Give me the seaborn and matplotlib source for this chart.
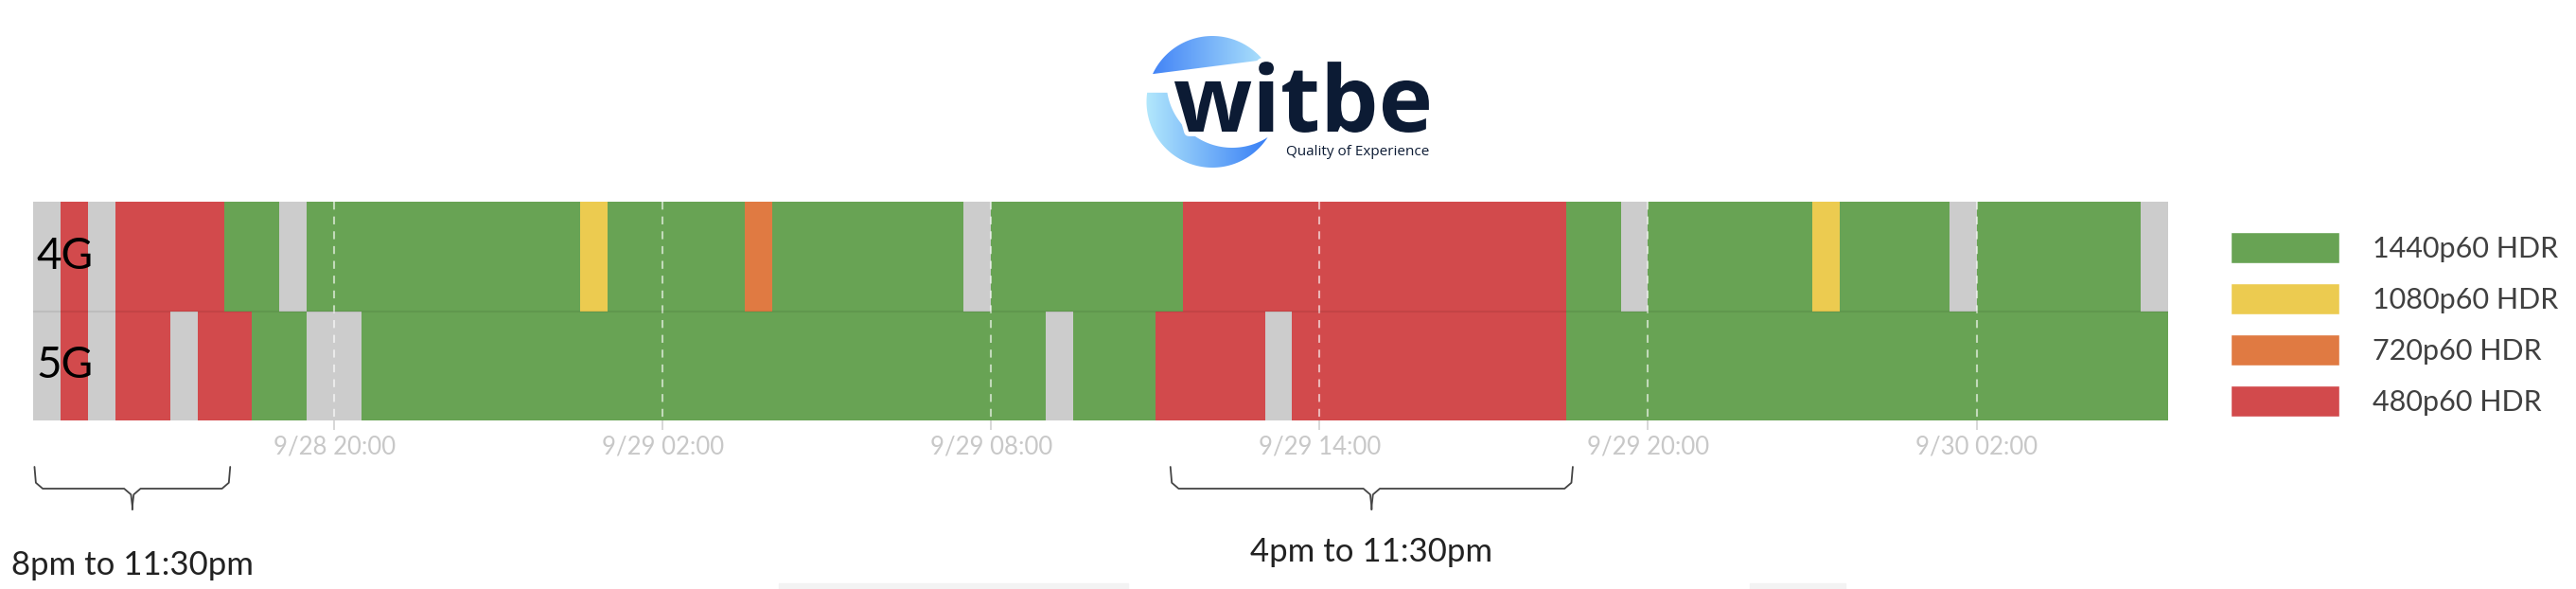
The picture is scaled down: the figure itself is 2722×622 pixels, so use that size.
import numpy as np
import pandas as pd
import seaborn as sns
import matplotlib.pyplot as plt
import matplotlib.colors as mcolors
import matplotlib.patheffects as pe
from matplotlib.patches import Patch, Polygon, Rectangle
from matplotlib.transforms import blended_transform_factory

W, H = 2722, 622

# %% data  (half-hour slots from 9/28 14:30)
start = '2021-09-28 14:30'
n_slots = 78

level_keys = ['1440', '1080', '720', '480', 'nd']
level_labels = ['1440p60 HDR', '1080p60 HDR', '720p60 HDR', '480p60 HDR']
level_colors = ['#68a354', '#eccb50', '#e07a42', '#d24a4c', '#cccccc']

rows = ['4G', '5G']
states_4g = ['nd', '480', 'nd', '480', '1440', 'nd', '1440', '1080', '1440', '720', '1440',
             'nd', '1440', '480', '1440', 'nd', '1440', '1080', '1440', 'nd', '1440', 'nd']
slots_4g = [1, 1, 1, 4, 2, 1, 10, 1, 5, 1, 7, 1, 7, 14, 2, 1, 6, 1, 4, 1, 6, 1]
states_5g = ['nd', '480', 'nd', '480', 'nd', '480', '1440', 'nd', '1440', 'nd', '1440',
             '480', 'nd', '480', '1440']
slots_5g = [1, 1, 1, 2, 1, 2, 2, 2, 25, 1, 3, 4, 1, 10, 22]

tick_times = ['2021-09-28 20:00', '2021-09-29 02:00', '2021-09-29 08:00',
              '2021-09-29 14:00', '2021-09-29 20:00', '2021-09-30 02:00']

bracket_spans = [(0.05, 7.2), (41.55, 56.25)]
bracket_labels = ['8pm to 11:30pm', '4pm to 11:30pm']
bracket_label_y = [597, 583]

# %%
sns.set_style('white')
plt.rcParams['font.family'] = ['Lato', 'DejaVu Sans']


def px(x, y):
    return x / W, 1 - y / H


times = pd.date_range(start, periods=n_slots, freq='30min')
code = {k: i for i, k in enumerate(level_keys)}
grid = np.vstack([np.repeat([code[s] for s in states_4g], slots_4g),
                  np.repeat([code[s] for s in states_5g], slots_5g)])
df = pd.DataFrame(grid, index=rows, columns=times)

fig = plt.figure(figsize=(W / 100, H / 100), dpi=100)
ax = fig.add_axes([35 / W, 1 - 444 / H, (2291 - 35) / W, (444 - 213) / H])

cmap = mcolors.ListedColormap(level_colors)
sns.heatmap(df, cmap=cmap, vmin=-0.5, vmax=4.5, cbar=False, ax=ax,
            xticklabels=False, yticklabels=False, linewidths=0)

tick_pos = [(pd.Timestamp(t) - times[0]) / pd.Timedelta('30min') for t in tick_times]
ax.set_xticks(tick_pos)
ax.set_xticklabels([pd.Timestamp(t).strftime('%-m/%d %H:%M') for t in tick_times])
ax.tick_params(axis='x', bottom=True, length=7, width=1.3, color='#d4d4d4',
               labelcolor='#c8c8c8', labelsize=18.5, pad=4)
ax.tick_params(axis='y', left=False)
ax.set_xlabel('')
ax.set_ylabel('')
for s in ax.spines.values():
    s.set_visible(False)

ax.vlines(tick_pos, 0, 2, colors='white', alpha=0.6, linestyles=(0, (4, 3.5)), lw=1.5, zorder=3)
ax.axhline(1, color='black', alpha=0.07, lw=1.5, zorder=3)

for i, r in enumerate(rows):
    ax.text(0.12, i + 0.5, r, va='center', ha='left', fontsize=33, color='black', zorder=4)

# brackets under the chart
tr = blended_transform_factory(ax.transData, fig.transFigure)
yt, yl, yb = 1 - 493 / H, 1 - 516 / H, 1 - 538 / H
for (x0, x1), lab, ly in zip(bracket_spans, bracket_labels, bracket_label_y):
    xm = (x0 + x1) / 2
    c = 0.3
    for sgn, xe in [(1, x0), (-1, x1)]:
        xs = [xe, xe + sgn * 0.05, xe + sgn * c, xm - sgn * c, xm - sgn * 0.05, xm, xm]
        ys = [yt, yl + 0.01, yl, yl, yl - 0.01, yl - 0.03, yb]
        ax.plot(xs, ys, color='#444444', lw=1.3, transform=tr, clip_on=False)
    ax.text(xm, 1 - ly / H, lab, transform=tr, ha='center', va='center',
            fontsize=25, color='#222222')

# legend
handles = [Patch(facecolor=c, label=l) for c, l in zip(level_colors[:4], level_labels)]
leg = fig.legend(handles=handles, loc='upper left', bbox_to_anchor=px(2357, 245),
                 frameon=False, fontsize=22, handlelength=3.77, handleheight=1.28,
                 handletextpad=1.15, labelspacing=0.69, borderpad=0, borderaxespad=0)
for t in leg.get_texts():
    t.set_color('#404040')

# logo
lax = fig.add_axes([1195 / W, 1 - 190 / H, 170 / W, 165 / H])
cx, cy, R = 1281, 107.5, 69.5


def arc(cx, cy, r, a0, a1, n=90):
    a = np.radians(np.linspace(a0, a1, n))
    return np.c_[cx + r * np.cos(a), cy - r * np.sin(a)]


upper = arc(cx, cy, R, 155, 39.5)
lower = np.vstack([arc(cx, cy, R, 172, 327), arc(cx + 21, cy - 21, R, 302.7, 189.4)])
grad = np.linspace(0, 1, 256)[None, :]
for pts, cols in [(upper, ['#3a7cf6', '#b5eafc']), (lower, ['#b5eafc', '#3078f5'])]:
    gcm = mcolors.LinearSegmentedColormap.from_list('g', cols)
    im = lax.imshow(grad, cmap=gcm, extent=(1208, 1348, 180, 35), aspect='auto')
    poly = Polygon(pts, closed=True, facecolor='none', edgecolor='none')
    lax.add_patch(poly)
    im.set_clip_path(poly)
lax.set_xlim(1195, 1365)
lax.set_ylim(190, 25)
lax.axis('off')

fig.text(*px(1240, 139), 'witbe', fontsize=70, fontweight='bold', family='Open Sans',
         color='#0c1b34', va='baseline', ha='left',
         path_effects=[pe.withStroke(linewidth=7, foreground='white')])
fig.text(*px(1510, 164), 'Quality of Experience', fontsize=11, family='Open Sans',
         color='#0c1b34', va='baseline', ha='right')

# faint screenshot strips at the bottom edge
for x0, x1 in [(823, 1192), (1849, 1950)]:
    fig.patches.append(Rectangle(px(x0, 622), (x1 - x0) / W, 6 / H,
                                 transform=fig.transFigure, color='#f3f3f3', zorder=0))

plt.savefig('out.png', dpi=100)
